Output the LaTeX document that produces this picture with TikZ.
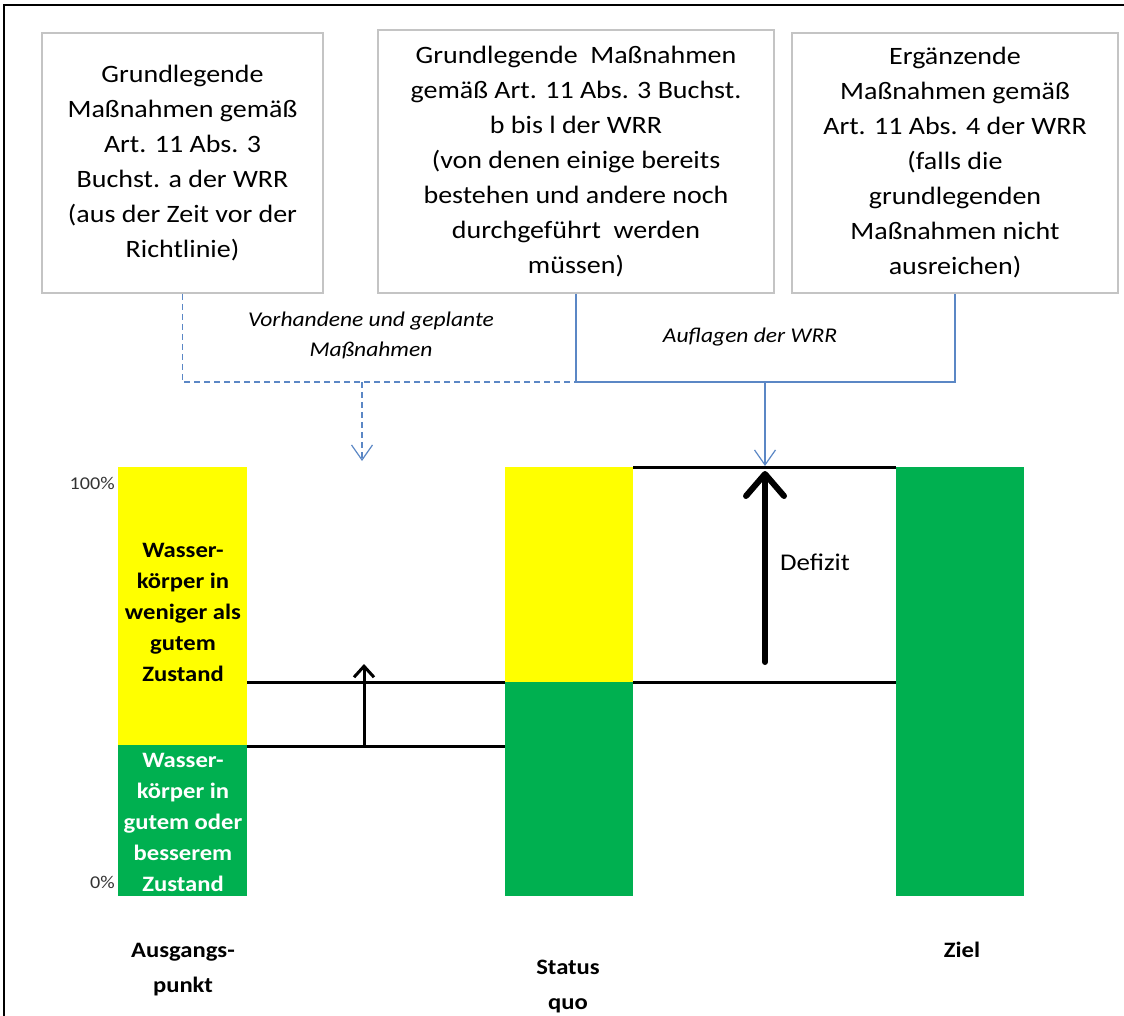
\documentclass[tikz,border=0pt]{standalone}
\usepackage{fontspec}
\setmainfont{Carlito}[FakeStretch=1.12]
\usepackage{xcolor}
\usetikzlibrary{arrows.meta,positioning,calc}

\definecolor{wrrblue}{HTML}{5B87C5}
\definecolor{wrrgreen}{HTML}{00B050}
\definecolor{wrryellow}{HTML}{FFFF00}
\definecolor{boxgray}{HTML}{C4C4C4}

\tikzset{
  massbox/.style={draw=boxgray, line width=1.5pt, fill=white, align=center, inner sep=0pt, font=\fontsize{25}{35}\selectfont},
  blueline/.style={draw=wrrblue, line width=1.2pt},
  bluedash/.style={blueline, dash pattern=on 6pt off 4pt},
  bluetip/.style={-{Straight Barb[length=15pt,width=21pt]}},
  level/.style={line width=3pt},
  barlabel/.style={font=\bfseries\fontsize{22}{31}\selectfont, align=center, inner sep=0pt},
  steplabel/.style={font=\bfseries\fontsize{22}{35}\selectfont, align=center, inner sep=0pt},
  flowlabel/.style={font=\itshape\fontsize{21}{30}\selectfont, align=center, inner sep=0pt},
}

\begin{document}
\begin{tikzpicture}[x=1pt, y=-1pt]
\useasboundingbox (0,0) rectangle (1124,1016);
\draw[line width=2.5pt] (4,1016) -- (4,5) -- (1124,5);

% measure boxes
\node[massbox, minimum width=281pt, minimum height=260pt] (b1) at (182.5,163)
  {Grundlegende\\Maßnahmen gemäß\\Art. 11 Abs. 3\\Buchst. a der WRR\\(aus der Zeit vor der\\Richtlinie)};
\node[massbox, minimum width=396pt, minimum height=263pt] (b2) at (576,161.5)
  {Grundlegende \ Maßnahmen\\gemäß Art. 11 Abs. 3 Buchst.\\b bis l der WRR\\(von denen einige bereits\\bestehen und andere noch\\durchgeführt \ werden\\müssen)};
\node[massbox, minimum width=326pt, minimum height=260pt] (b3) at (955,163)
  {Ergänzende\\Maßnahmen gemäß\\Art. 11 Abs. 4 der WRR\\(falls die\\grundlegenden\\Maßnahmen nicht\\ausreichen)};

% connectors
\coordinate (jn) at (576,382);
\coordinate (d1) at (362,382);
\coordinate (d2) at (362,461);
\coordinate (a1) at (765,382);
\coordinate (a2) at (765,466);
\draw[bluedash] (b1.south) |- (jn);
\draw[blueline] (b2.south) -- (jn) -| (b3.south);
\draw[bluedash, bluetip] (d1) -- (d2);
\draw[blueline, bluetip] (a1) -- (a2);
\node[flowlabel] (fl1) at (371,335) {Vorhandene und geplante\\Maßnahmen};
\node[flowlabel] (fl2) at (750,337) {Auflagen der WRR};

% bars
\fill[wrryellow] (118,467) rectangle (247,745);
\fill[wrrgreen] (118,745) rectangle (247,896);
\fill[wrryellow] (505,467) rectangle (633,682);
\fill[wrrgreen] (505,682) rectangle (633,896);
\fill[wrrgreen] (896,467) rectangle (1024,896);

\node[anchor=east, inner sep=0pt, font=\fontsize{18}{20}\selectfont, text=black!80] (p100) at (115,483) {100\%};
\node[anchor=east, inner sep=0pt, font=\fontsize{18}{20}\selectfont, text=black!80] (p0) at (115,882) {0\%};

\node[barlabel] (t1) at (183,612) {Wasser-\\körper in\\weniger als\\gutem\\Zustand};
\node[barlabel, text=white] (t2) at (183,822) {Wasser-\\körper in\\gutem oder\\besserem\\Zustand};

% levels
\coordinate (s1) at (247,682);
\coordinate (s2) at (505,682);
\coordinate (s3) at (247,746);
\coordinate (s4) at (505,746);
\coordinate (s5) at (633,682);
\coordinate (s6) at (896,682);
\coordinate (s7) at (633,467);
\coordinate (s8) at (896,467);
\draw[level] (s1) -- (s2);
\draw[level] (s3) -- (s4);
\draw[level] (s5) -- (s6);
\draw[level] (s7) -- (s8);

\coordinate (u1) at (364,746);
\coordinate (u2) at (364,664);
\draw[level, -{Straight Barb[length=11pt,width=20pt]}] (u1) -- (u2);
\coordinate (v1) at (765,662);
\coordinate (v2) at (765,471);
\draw[line width=6pt, line cap=round, -{Straight Barb[length=22pt,width=38pt,round]}] (v1) -- (v2);
\node[anchor=west, inner sep=0pt, font=\fontsize{24}{28}\selectfont] (def) at (780,562) {Defizit};

\node[steplabel] (l1) at (183,970) {Ausgangs-\\punkt};
\node[steplabel] (l2) at (568,987) {Status\\quo};
\node[steplabel] (l3) at (962,950) {Ziel};
\end{tikzpicture}
\end{document}
